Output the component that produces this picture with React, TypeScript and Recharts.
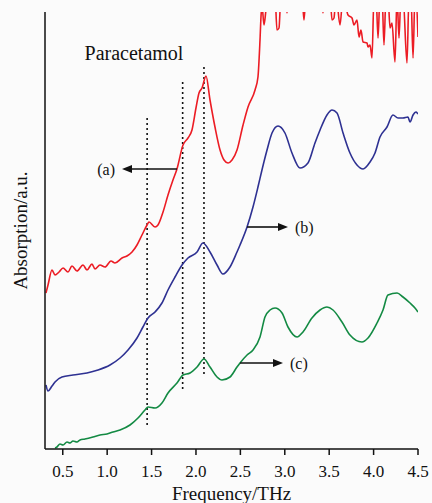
import { LineChart, Line, XAxis, YAxis, ReferenceLine, ReferenceDot } from "recharts"

const xTicks = [0.5, 1.0, 1.5, 2.0, 2.5, 3.0, 3.5, 4.0, 4.5]

// (a) paracetamol, red
const redFreq = [
    0.311, 0.334, 0.379, 0.413, 0.458, 0.503, 0.559, 0.604, 0.660, 0.728,
    0.773, 0.829, 0.863, 0.919, 0.976, 1.043, 1.088, 1.167, 1.223, 1.280,
    1.336, 1.392, 1.449, 1.471, 1.539, 1.572, 1.629, 1.685, 1.741, 1.786,
    1.854, 1.910, 1.955, 2.000, 2.034, 2.068, 2.113, 2.158, 2.214, 2.271,
    2.316, 2.361, 2.406, 2.462, 2.530, 2.586, 2.665, 2.698, 2.721, 2.732,
    2.743, 2.766, 2.788, 2.811, 2.890, 2.912, 2.935, 2.957, 3.013, 3.025,
    3.036, 3.194, 3.216, 3.239, 3.419, 3.430, 3.442, 3.509, 3.532, 3.554,
    3.577, 3.622, 3.656, 3.712, 3.757, 3.779, 3.813, 3.836, 3.858, 3.881,
    3.926, 3.937, 3.960, 3.982, 4.005, 4.027, 4.050, 4.072, 4.095, 4.117,
    4.140, 4.162, 4.185, 4.207, 4.241, 4.264, 4.286, 4.308, 4.331, 4.376,
    4.399, 4.421, 4.444, 4.466, 4.477, 4.500,
]
const redAbs = [
    1.56, 1.64, 1.79, 1.74, 1.77, 1.81, 1.77, 1.83, 1.78, 1.84,
    1.79, 1.85, 1.80, 1.84, 1.82, 1.88, 1.86, 1.91, 1.93, 1.97,
    2.04, 2.14, 2.24, 2.27, 2.22, 2.24, 2.37, 2.54, 2.69, 2.80,
    3.04, 3.11, 3.19, 3.41, 3.56, 3.61, 3.73, 3.49, 3.22, 2.99,
    2.89, 2.86, 2.89, 2.99, 3.24, 3.42, 3.59, 3.72, 4.09, 4.32,
    4.44, 4.24, 4.39, 4.54, 4.54, 4.19, 4.21, 4.54, 4.54, 4.36,
    4.54, 4.54, 4.29, 4.54, 4.54, 4.36, 4.54, 4.54, 4.29, 4.31,
    4.54, 4.24, 4.54, 4.34, 4.31, 4.24, 4.29, 4.12, 4.19, 4.07,
    4.06, 4.02, 4.04, 3.91, 4.54, 4.54, 4.11, 4.54, 4.54, 4.04,
    4.54, 4.54, 4.21, 4.26, 3.87, 4.54, 4.11, 4.54, 4.54, 3.86,
    4.54, 4.54, 3.91, 4.54, 4.54, 4.12,
]

// (b) blue
const blueFreq = [
    0.311, 0.334, 0.379, 0.413, 0.491, 0.615, 0.773, 0.897, 1.032, 1.145,
    1.235, 1.336, 1.403, 1.460, 1.539, 1.617, 1.685, 1.764, 1.843, 1.910,
    2.012, 2.079, 2.158, 2.237, 2.304, 2.383, 2.462, 2.496, 2.575, 2.642,
    2.698, 2.743, 2.800, 2.856, 2.924, 3.002, 3.081, 3.171, 3.261, 3.340,
    3.397, 3.475, 3.532, 3.588, 3.656, 3.734, 3.813, 3.881, 3.960, 4.016,
    4.072, 4.151, 4.218, 4.275, 4.331, 4.387, 4.410, 4.444, 4.477, 4.500,
]
const blueAbs = [
    0.64, 0.58, 0.63, 0.67, 0.72, 0.74, 0.76, 0.79, 0.84, 0.91,
    0.99, 1.11, 1.22, 1.31, 1.37, 1.46, 1.59, 1.72, 1.84, 1.91,
    1.97, 2.06, 1.97, 1.84, 1.75, 1.82, 1.97, 2.04, 2.22, 2.42,
    2.62, 2.79, 2.99, 3.16, 3.23, 3.16, 2.96, 2.81, 2.86, 3.06,
    3.19, 3.34, 3.39, 3.36, 3.16, 2.96, 2.84, 2.80, 2.87, 2.96,
    3.12, 3.22, 3.34, 3.31, 3.31, 3.32, 3.27, 3.34, 3.37, 3.35,
]

// (c) green
const greenFreq = [
    0.413, 0.435, 0.469, 0.503, 0.548, 0.581, 0.615, 0.660, 0.694, 0.750,
    0.840, 0.919, 0.998, 1.066, 1.145, 1.257, 1.347, 1.426, 1.460, 1.539,
    1.617, 1.685, 1.786, 1.854, 1.933, 2.012, 2.090, 2.158, 2.237, 2.293,
    2.383, 2.462, 2.496, 2.575, 2.642, 2.721, 2.777, 2.834, 2.890, 2.969,
    3.036, 3.138, 3.205, 3.306, 3.397, 3.475, 3.543, 3.644, 3.734, 3.869,
    3.937, 4.038, 4.106, 4.162, 4.264, 4.331, 4.410, 4.466, 4.500,
]
const greenAbs = [
    0.01, 0.02, 0.05, 0.04, 0.07, 0.06, 0.08, 0.07, 0.09, 0.10,
    0.12, 0.14, 0.15, 0.17, 0.19, 0.24, 0.31, 0.39, 0.42, 0.41,
    0.46, 0.56, 0.66, 0.74, 0.76, 0.82, 0.90, 0.82, 0.72, 0.69,
    0.72, 0.82, 0.86, 0.94, 0.99, 1.12, 1.32, 1.39, 1.41, 1.36,
    1.22, 1.12, 1.17, 1.31, 1.39, 1.42, 1.39, 1.27, 1.14, 1.07,
    1.11, 1.26, 1.39, 1.54, 1.56, 1.52, 1.46, 1.41, 1.37,
]

// dotted guide lines
const guideFreq = [1.45, 1.85, 2.09]
const guideTop = [3.31, 3.67, 3.82]
const guideBottom = [0.22, 0.59, 0.72]

// arrows pointing at each trace
const arrowLabels = ["(a)", "(b)", "(c)"]
const arrowFrom = [1.786, 2.575, 2.496]
const arrowTo = [1.167, 3.036, 2.980]
const arrowLevel = [2.80, 2.22, 0.86]

const title = "Paracetamol"
const titleFreq = 1.302
const titleLevel = 3.96

const FONT = '"Liberation Serif", "Times New Roman", serif'

const toRows = (freq: number[], abs: number[]) => freq.map((f, i) => ({ f, v: abs[i] }))

const redData = toRows(redFreq, redAbs)
const blueData = toRows(blueFreq, blueAbs)
const greenData = toRows(greenFreq, greenAbs)

function arrowShape(label: string) {
    return (props: any) => {
        const { x1, y1, x2, y2 } = props
        const dir = x2 > x1 ? 1 : -1
        const head = 10
        return (
            <g>
                <line x1={x1} y1={y1} x2={x2 - dir * head} y2={y2} stroke="#111" strokeWidth={1.6} />
                <polygon
                    points={`${x2},${y2} ${x2 - dir * head},${y2 - 4} ${x2 - dir * head},${y2 + 4}`}
                    fill="#111"
                />
                <text
                    x={x2 + dir * 7}
                    y={y2}
                    textAnchor={dir > 0 ? "start" : "end"}
                    dominantBaseline="central"
                    fontSize={16}
                    fontFamily={FONT}
                    fill="#111"
                >
                    {label}
                </text>
            </g>
        )
    }
}

const FreqTick = (props: any) => {
    const { x, y, payload } = props
    return (
        <text x={x} y={y} dy={12} textAnchor="middle" fontSize={17} fontFamily={FONT} fill="#111">
            {Number(payload.value).toFixed(1)}
        </text>
    )
}

const xLabel = (props: any) => {
    const { viewBox } = props
    return (
        <text
            x={viewBox.x + viewBox.width / 2}
            y={viewBox.y + viewBox.height - 3}
            textAnchor="middle"
            fontSize={19}
            fontFamily={FONT}
            fill="#111"
        >
            Frequency/THz
        </text>
    )
}

const yLabel = (props: any) => {
    const { viewBox } = props
    const cx = viewBox.x + 20
    const cy = viewBox.y + viewBox.height / 2
    return (
        <text
            x={cx}
            y={cy}
            transform={`rotate(-90 ${cx} ${cy})`}
            textAnchor="middle"
            dominantBaseline="central"
            fontSize={19}
            fontFamily={FONT}
            fill="#111"
        >
            Absorption/a.u.
        </text>
    )
}

export default function App() {

    return (

        <div style={{ position: "absolute", left: 0, top: 0, width: 432, height: 503, background: "#fbfbfb" }}>

            <LineChart width={432} height={503} margin={{ top: 12, right: 14, bottom: 0, left: 0 }}>

                <XAxis
                    type="number"
                    dataKey="f"
                    domain={[0.3, 4.5]}
                    allowDataOverflow
                    ticks={xTicks}
                    interval={0}
                    height={54}
                    tickSize={6}
                    tickMargin={10}
                    tick={<FreqTick />}
                    tickLine={{ stroke: "#111", strokeWidth: 1.5 }}
                    axisLine={{ stroke: "#111", strokeWidth: 1.5 }}
                    label={xLabel}
                />

                <YAxis
                    type="number"
                    domain={[0, 4.37]}
                    allowDataOverflow
                    width={45}
                    tick={false}
                    tickLine={false}
                    axisLine={{ stroke: "#111", strokeWidth: 1.5 }}
                    label={yLabel}
                />

                {guideFreq.map((f, i) => (
                    <ReferenceLine
                        key={"g" + i}
                        segment={[{ x: f, y: guideTop[i] }, { x: f, y: guideBottom[i] }]}
                        stroke="#111"
                        strokeWidth={1.6}
                        strokeDasharray="2 3"
                    />
                ))}

                <Line data={redData} dataKey="v" type="monotone" stroke="#ec1c24" strokeWidth={1.6} dot={false} isAnimationActive={false} />
                <Line data={blueData} dataKey="v" type="monotone" stroke="#2e3192" strokeWidth={1.6} dot={false} isAnimationActive={false} />
                <Line data={greenData} dataKey="v" type="monotone" stroke="#138a43" strokeWidth={1.6} dot={false} isAnimationActive={false} />

                {arrowLabels.map((label, i) => (
                    <ReferenceLine
                        key={"a" + i}
                        segment={[{ x: arrowFrom[i], y: arrowLevel[i] }, { x: arrowTo[i], y: arrowLevel[i] }]}
                        shape={arrowShape(label)}
                    />
                ))}

                <ReferenceDot
                    x={titleFreq}
                    y={titleLevel}
                    r={0}
                    shape={(p: any) => (
                        <text x={p.cx} y={p.cy} textAnchor="middle" dominantBaseline="central" fontSize={20} fontFamily={FONT} fill="#111">
                            {title}
                        </text>
                    )}
                />

            </LineChart>

        </div>

    )

}
